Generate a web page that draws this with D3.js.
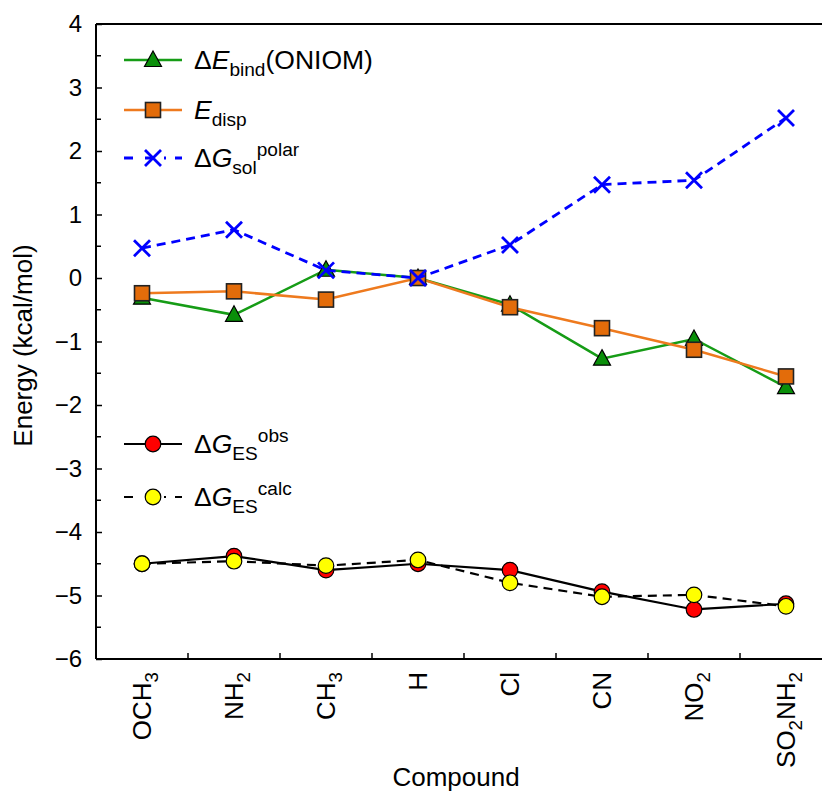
<!DOCTYPE html>
<html>
<head>
<meta charset="utf-8">
<script src="https://cdn.jsdelivr.net/npm/d3@7"></script>
<style>
  html, body { margin: 0; padding: 0; background: #fff; }
  svg text { font-family: "Liberation Sans", Arial, Helvetica, sans-serif; fill: #000; }
</style>
</head>
<body>
<svg id="chart" width="822" height="793"></svg>
<script>
// Substituent categories (x axis), drawn as rich labels with subscripts
const compounds = ["OCH3", "NH2", "CH3", "H", "Cl", "CN", "NO2", "SO2NH2"];
const compoundLabels = [
  [["OCH"], ["3", "sub"]],
  [["NH"], ["2", "sub"]],
  [["CH"], ["3", "sub"]],
  [["H"]],
  [["Cl"]],
  [["CN"]],
  [["NO"], ["2", "sub"]],
  [["SO"], ["2", "sub"], ["NH"], ["2", "sub"]]
];

// Energies in kcal/mol
const dEbind  = [-0.31, -0.58, 0.13, 0.00, -0.42, -1.27, -0.96, -1.72];
const Edisp   = [-0.24, -0.21, -0.34, 0.00, -0.46, -0.79, -1.13, -1.55];
const dGsol   = [0.47, 0.76, 0.12, 0.00, 0.52, 1.47, 1.54, 2.52];
const dGESobs = [-4.50, -4.38, -4.60, -4.50, -4.60, -4.94, -5.22, -5.13];
const dGEScalc= [-4.50, -4.46, -4.53, -4.44, -4.80, -5.02, -4.99, -5.17];

const yTicks = [-6, -5, -4, -3, -2, -1, 0, 1, 2, 3, 4];

const svg = d3.select("#chart");
const plotLeft = 96, plotTop = 24, plotBottom = 659, plotRight = plotLeft + 8 * 92;

const x = d3.scaleBand().domain(compounds).range([plotLeft, plotRight]);
const cx = c => x(c) + x.bandwidth() / 2;
const y = d3.scaleLinear().domain([-6, 4]).range([plotBottom, plotTop]);

// rich text helper: parts = [[text, "sub"|"sup"|undefined, italic?], ...]
function rich(textSel, parts, size) {
  let cur = 0;
  parts.forEach(p => {
    const [t, shift, ital] = p;
    const target = shift === "sub" ? 0.28 * size : shift === "sup" ? -0.42 * size : 0;
    const ts = textSel.append("tspan")
      .attr("dy", target - cur)
      .attr("font-size", shift ? size * 0.72 : size)
      .text(t);
    if (ital) ts.attr("font-style", "italic");
    cur = target;
  });
  return textSel;
}

// top frame line
svg.append("line").attr("x1", plotLeft).attr("x2", plotRight).attr("y1", plotTop).attr("y2", plotTop)
  .attr("stroke", "#000").attr("stroke-width", 2);

// y axis
const yAxis = d3.axisLeft(y).tickValues(yTicks).tickSize(-6).tickPadding(14)
  .tickFormat(d => d < 0 ? "\u2212" + Math.abs(d) : String(d));
const gy = svg.append("g").attr("transform", `translate(${plotLeft},0)`).call(yAxis);
gy.select(".domain").attr("stroke-width", 2).attr("d", `M0,${plotTop}V${plotBottom}`);
gy.selectAll(".tick line").attr("stroke-width", 1.5);
gy.selectAll(".tick text").attr("font-size", 24).attr("font-family", "Liberation Sans, Arial, sans-serif");
// minor ticks at half units
const minor = d3.range(-5.5, 4, 1);
svg.append("g").selectAll("line").data(minor).join("line")
  .attr("x1", plotLeft).attr("x2", plotLeft + 5)
  .attr("y1", d => y(d)).attr("y2", d => y(d))
  .attr("stroke", "#000").attr("stroke-width", 1.5);

// x axis: line plus inward ticks at band boundaries
svg.append("line").attr("x1", plotLeft).attr("x2", plotRight).attr("y1", plotBottom).attr("y2", plotBottom)
  .attr("stroke", "#000").attr("stroke-width", 2);
svg.append("g").selectAll("line").data(compounds.slice(1)).join("line")
  .attr("x1", d => x(d)).attr("x2", d => x(d))
  .attr("y1", plotBottom).attr("y2", plotBottom - 6)
  .attr("stroke", "#000").attr("stroke-width", 1.5);

// x tick labels (rotated)
compounds.forEach((c, i) => {
  const t = svg.append("text")
    .attr("transform", `translate(${cx(c) + 9},${plotBottom + 13}) rotate(-90)`)
    .attr("text-anchor", "end");
  rich(t, compoundLabels[i], 26);
});

// axis titles
svg.append("text").attr("x", 456).attr("y", 786).attr("text-anchor", "middle")
  .attr("font-size", 26).text("Compound");
svg.append("text").attr("transform", `translate(32,${(plotTop + plotBottom) / 2 + 4}) rotate(-90)`)
  .attr("text-anchor", "middle").attr("font-size", 26).text("Energy (kcal/mol)");

// series definitions
const line = vals => d3.line().x((d, i) => cx(compounds[i])).y(d => y(d))(vals);

const triPath = "M0,-9L8.5,6.5L-8.5,6.5Z";
const xPath = "M-8,-8L8,8M-8,8L8,-8";

function drawMarker(g, kind, px, py) {
  if (kind === "tri") {
    g.append("path").attr("d", triPath).attr("transform", `translate(${px},${py})`)
      .attr("fill", "#0a8f0a").attr("stroke", "#000").attr("stroke-width", 1.2);
  } else if (kind === "sq") {
    g.append("rect").attr("x", px - 7.5).attr("y", py - 7.5).attr("width", 15).attr("height", 15)
      .attr("fill", "#e36c0a").attr("stroke", "#222").attr("stroke-width", 1.6);
  } else if (kind === "x") {
    g.append("path").attr("d", xPath).attr("transform", `translate(${px},${py})`)
      .attr("fill", "none").attr("stroke", "#0000ff").attr("stroke-width", 2.8);
  } else if (kind === "red") {
    g.append("circle").attr("cx", px).attr("cy", py).attr("r", 7.8)
      .attr("fill", "#ff0000").attr("stroke", "#000").attr("stroke-width", 1.2);
  } else if (kind === "yel") {
    g.append("circle").attr("cx", px).attr("cy", py).attr("r", 7.8)
      .attr("fill", "#ffff00").attr("stroke", "#000").attr("stroke-width", 1.2);
  }
}

const series = [
  { vals: dEbind, color: "#169c16", width: 2.5, dash: null, marker: "tri" },
  { vals: Edisp, color: "#ee7a1e", width: 2.5, dash: null, marker: "sq" },
  { vals: dGsol, color: "#0000ff", width: 2.8, dash: "9,6", marker: "x" },
  { vals: dGESobs, color: "#000", width: 2.2, dash: null, marker: "red" },
  { vals: dGEScalc, color: "#000", width: 2.2, dash: "9,6", marker: "yel" }
];

const plot = svg.append("g");
series.forEach(s => {
  plot.append("path").attr("d", line(s.vals)).attr("fill", "none")
    .attr("stroke", s.color).attr("stroke-width", s.width)
    .attr("stroke-dasharray", s.dash);
  const mg = plot.append("g");
  s.vals.forEach((v, i) => drawMarker(mg, s.marker, cx(compounds[i]), y(v)));
});

// legends
const legendItems = [
  { s: series[0], ly: 60, parts: [["\u0394"], ["E", null, true], ["bind", "sub"], ["(ONIOM)"]] },
  { s: series[1], ly: 110, parts: [["E", null, true], ["disp", "sub"]] },
  { s: series[2], ly: 158, parts: [["\u0394"], ["G", null, true], ["sol", "sub"], ["polar", "sup"]] },
  { s: series[3], ly: 444, parts: [["\u0394"], ["G", null, true], ["ES", "sub"], ["obs", "sup"]] },
  { s: series[4], ly: 497, parts: [["\u0394"], ["G", null, true], ["ES", "sub"], ["calc", "sup"]] }
];
const lg = svg.append("g");
legendItems.forEach(it => {
  lg.append("line").attr("x1", 124).attr("x2", 182).attr("y1", it.ly).attr("y2", it.ly)
    .attr("stroke", it.s.color).attr("stroke-width", it.s.width)
    .attr("stroke-dasharray", it.s.dash ? "9,12,9,10,2" : null);
  drawMarker(lg, it.s.marker, 153, it.ly);
  const t = lg.append("text").attr("x", 194).attr("y", it.ly + 9);
  rich(t, it.parts, 26.5);
});
</script>
</body>
</html>
